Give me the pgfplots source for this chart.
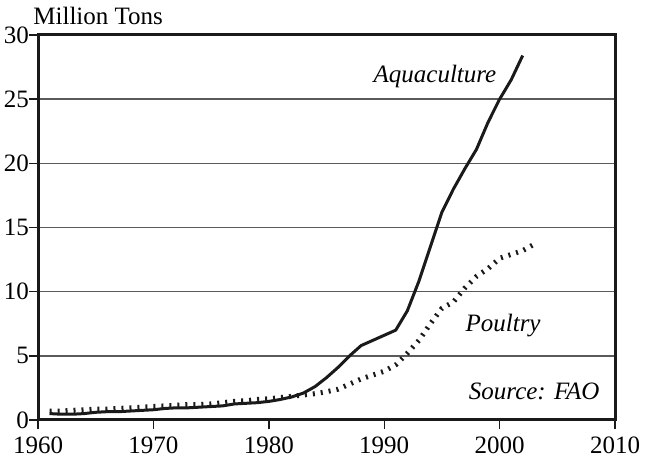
\documentclass[border=0pt]{standalone}
\usepackage{fontspec}
\setmainfont{Liberation Serif}
\usepackage{pgfplots}
\pgfplotsset{compat=1.18}

\definecolor{inkline}{HTML}{1A1A1A}
\definecolor{gridgray}{HTML}{5A5A5A}

\begin{document}
\begin{tikzpicture}
% picture frame: 646x458 px at 0.5pt per px, axis box lower-left at origin
\useasboundingbox (-19pt,-19pt) rectangle (304pt,210pt);
\begin{axis}[
    scale only axis,
    width=288.5pt,
    height=192.5pt,
    xmin=1960, xmax=2010,
    ymin=0, ymax=30,
    xtick={1960,1970,...,2010},
    ytick={0,5,...,30},
    xtick pos=left,
    ytick pos=left,
    tick align=outside,
    major tick length=4.5pt,
    tick style={inkline, line width=0.7pt},
    ymajorgrids=true,
    grid style={gridgray, line width=0.8pt},
    axis line style={inkline, line width=1.5pt},
    x tick label style={font=\fontsize{12.5}{14}\selectfont, yshift=-0.5pt},
    y tick label style={font=\fontsize{12.5}{14}\selectfont, xshift=3.5pt},
    /pgf/number format/assume math mode=true,
    /pgf/number format/1000 sep={},
    clip=false,
]

% Aquaculture
\addplot[inkline, line width=1.5pt, line join=round] coordinates {
(1961,0.50) (1962,0.45) (1963,0.45) (1964,0.50) (1965,0.60) (1966,0.65)
(1967,0.65) (1968,0.70) (1969,0.75) (1970,0.80) (1971,0.90) (1972,0.95)
(1973,0.95) (1974,1.00) (1975,1.05) (1976,1.10) (1977,1.25) (1978,1.30)
(1979,1.35) (1980,1.45) (1981,1.60) (1982,1.80) (1983,2.10) (1984,2.60)
(1985,3.30) (1986,4.10) (1987,5.00) (1988,5.80) (1989,6.20) (1990,6.60)
(1991,7.00) (1992,8.50) (1993,10.8) (1994,13.5) (1995,16.2) (1996,18.0)
(1997,19.6) (1998,21.1) (1999,23.2) (2000,25.0) (2001,26.5) (2002,28.4)
};

% Poultry
\addplot[inkline, line width=2.5pt, dash pattern=on 1pt off 3pt] coordinates {
(1961,0.70) (1962,0.70) (1963,0.75) (1964,0.80) (1965,0.85) (1966,0.85)
(1967,0.90) (1968,0.95) (1969,1.00) (1970,1.05) (1971,1.10) (1972,1.15)
(1973,1.20) (1974,1.20) (1975,1.25) (1976,1.35) (1977,1.45) (1978,1.50)
(1979,1.60) (1980,1.65) (1981,1.75) (1982,1.85) (1983,1.95) (1984,2.05)
(1985,2.20) (1986,2.40) (1987,2.80) (1988,3.20) (1989,3.50) (1990,3.80)
(1991,4.30) (1992,5.20) (1993,6.20) (1994,7.50) (1995,8.70) (1996,9.20)
(1997,10.3) (1998,11.2) (1999,11.8) (2000,12.6) (2001,12.9) (2002,13.2)
(2003,13.7)
};

\node[anchor=base, font=\fontsize{12.5}{14}\selectfont\itshape]
    at (axis cs:1994.4,26.3) {Aquaculture};
\node[anchor=base, font=\fontsize{12.5}{14}\selectfont\itshape]
    at (axis cs:2000.3,6.86) {Poultry};
\node[anchor=base, font=\fontsize{12.5}{14}\selectfont\itshape]
    at (axis cs:2003.0,1.56) {Source: FAO};
\node[anchor=base west, inner sep=0pt, font=\fontsize{12.5}{14}\selectfont]
    at ([xshift=-2.5pt, yshift=5pt]rel axis cs:0,1) {Million Tons};
\end{axis}
\end{tikzpicture}
\end{document}
